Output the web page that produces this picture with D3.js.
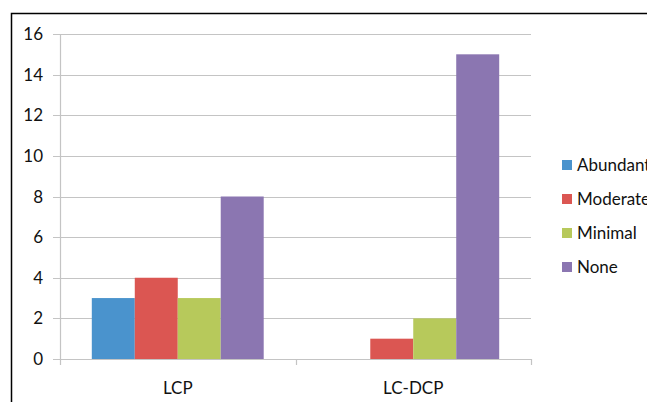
<!DOCTYPE html>
<html><head><meta charset="utf-8">
<script src="https://cdn.jsdelivr.net/npm/d3@7"></script>
<style>body{margin:0;background:#fff;} text{font-family:Lato,"Open Sans",sans-serif;fill:#111;}</style>
</head><body>
<svg id="c" width="647" height="402"></svg>
<script>
const categories = ["LCP", "LC-DCP"];
const seriesNames = ["Abundant", "Moderate", "Minimal", "None"];
const abundant = [3, 0];
const moderate = [4, 1];
const minimal = [3, 2];
const none = [8, 15];
const yTicks = [0, 2, 4, 6, 8, 10, 12, 14, 16];
const colors = ["#4a93cd", "#db5652", "#b7c95b", "#8b76b1"];

(function () {
const series = [abundant, moderate, minimal, none];
const svg = d3.select("#c");

// outer border
svg.append("rect").attr("x", 11.5).attr("y", 13.5).attr("width", 700).attr("height", 500)
  .attr("fill", "none").attr("stroke", "#000").attr("stroke-width", 1.5);

const pLeft = 60, pRight = 531, pTop = 34, pBottom = 359;
const x = d3.scaleBand().domain(categories).range([pLeft, pRight]);
const y = d3.scaleLinear().domain([0, 16]).range([pBottom, pTop]);
const xs = d3.scaleBand().domain(seriesNames).range([0, x.bandwidth()]).paddingOuter(0.74).paddingInner(0);

// gridlines
svg.append("g").selectAll("line").data(yTicks).join("line")
  .attr("x1", pLeft - 7).attr("x2", pRight).attr("y1", d => Math.round(y(d)) + 0.5).attr("y2", d => Math.round(y(d)) + 0.5)
  .attr("stroke", "#c4c4c4").attr("stroke-width", 1.2);

// y axis line
svg.append("line").attr("x1", pLeft + 0.5).attr("x2", pLeft + 0.5).attr("y1", pTop).attr("y2", pBottom)
  .attr("stroke", "#c4c4c4").attr("stroke-width", 1.2);

// x tick marks
const xt = [pLeft, pLeft + x.bandwidth(), pRight];
svg.append("g").selectAll("line").data(xt).join("line")
  .attr("x1", d => Math.round(d) + 0.5).attr("x2", d => Math.round(d) + 0.5).attr("y1", pBottom).attr("y2", pBottom + 6)
  .attr("stroke", "#c4c4c4").attr("stroke-width", 1.2);

// y tick labels
svg.append("g").selectAll("text").data(yTicks).join("text")
  .attr("x", 43).attr("y", d => y(d)).attr("dy", "0.36em").attr("text-anchor", "end")
  .attr("font-size", 17).text(d => d);

// bars
seriesNames.forEach((s, i) => {
  svg.append("g").selectAll("rect").data(categories).join("rect")
    .attr("x", c => x(c) + xs(s)).attr("width", xs.bandwidth())
    .attr("y", (c, j) => y(series[i][j])).attr("height", (c, j) => y(0) - y(series[i][j]))
    .attr("fill", colors[i]);
});

// category labels
svg.append("g").selectAll("text").data(categories).join("text")
  .attr("x", c => x(c) + x.bandwidth() / 2).attr("y", 388).attr("dy", "0.36em").attr("text-anchor", "middle")
  .attr("font-size", 17).text(c => c);

// legend
const lg = svg.append("g").selectAll("g").data(seriesNames).join("g")
  .attr("transform", (d, i) => `translate(562,${165 + i * 34})`);
lg.append("rect").attr("x", 0).attr("y", -5).attr("width", 10).attr("height", 10).attr("fill", (d, i) => colors[i]);
lg.append("text").attr("x", 15).attr("y", 0).attr("dy", "0.36em").attr("font-size", 17).text(d => d);
})();
</script>
</body></html>
